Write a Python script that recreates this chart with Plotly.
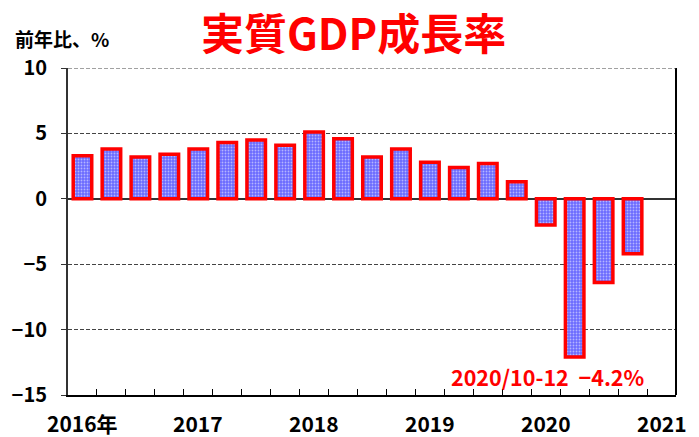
import plotly.graph_objects as go

quarters = ["2016Q1","2016Q2","2016Q3","2016Q4","2017Q1","2017Q2","2017Q3","2017Q4",
            "2018Q1","2018Q2","2018Q3","2018Q4","2019Q1","2019Q2","2019Q3","2019Q4",
            "2020Q1","2020Q2","2020Q3","2020Q4"]
growth = [3.3, 3.8, 3.2, 3.4, 3.8, 4.3, 4.5, 4.1,
          5.1, 4.6, 3.2, 3.8, 2.8, 2.4, 2.7, 1.3,
          -2.0, -12.1, -6.4, -4.2]
year_labels = ["2016年", "2017", "2018", "2019", "2020", "2021"]
y_ticks = [10, 5, 0, -5, -10, -15]
y_tick_text = ["10", "5", "0", "−5", "−10", "−15"]
title_text = "実質GDP成長率"
y_title = "前年比、%"
note_text = "2020/10-12 \u00a0−4.2%"

FONT = "Noto Sans CJK JP"
xpos = [i + 0.5 for i in range(len(quarters))]

fig = go.Figure()
fig.add_trace(go.Bar(
    x=xpos, y=growth, width=0.64,
    customdata=quarters,
    marker=dict(
        color="#6a6aff",
        line=dict(color="#ff0000", width=3.5),
        pattern=dict(shape=".", fgcolor="white", bgcolor="#6a6aff", size=3, solidity=0.3),
    ),
    hovertemplate="%{customdata}: %{y}%<extra></extra>",
))

fig.update_layout(
    width=699, height=437,
    margin=dict(l=68, r=23, t=68, b=42),
    paper_bgcolor="white", plot_bgcolor="white",
    showlegend=False,
    font=dict(family=FONT, color="black"),
)

fig.update_xaxes(
    range=[0, 21],
    tickvals=list(range(1, 21)), ticktext=[""] * 20,
    ticks="inside", ticklen=6, tickwidth=1, tickcolor="black",
    showgrid=False, zeroline=False,
    showline=True, linecolor="black", linewidth=2,
)
fig.update_yaxes(
    range=[-15, 10],
    tickvals=y_ticks, ticktext=y_tick_text,
    ticks="outside", ticklen=5, tickwidth=1, tickcolor="#333",
    ticklabelstandoff=10,
    tickfont=dict(family=FONT, size=20, color="black", weight="bold"),
    showgrid=True, gridcolor="#444", griddash="4px,2px", gridwidth=1,
    zeroline=True, zerolinecolor="#333", zerolinewidth=2,
    showline=True, linecolor="#333", linewidth=2,
)

# right border and top dashed line
fig.add_shape(type="line", xref="paper", yref="paper", x0=1, x1=1, y0=0, y1=1,
              line=dict(color="black", width=2))
fig.add_shape(type="line", xref="paper", yref="y", x0=0, x1=1, y0=10, y1=10,
              line=dict(color="#444", width=1, dash="4px,2px"))

# year labels centred under Q1 of each year
for k, lab in enumerate(year_labels):
    fig.add_annotation(x=k * 4 + 0.5, y=-0.035, xref="x", yref="paper",
                       text=lab, showarrow=False, yanchor="top",
                       font=dict(family=FONT, size=21, color="black", weight="bold"))

fig.add_annotation(x=353, y=31, xref="paper", yref="paper", text=title_text, showarrow=False)
fig.layout.annotations[-1].update(
    x=(353 - 68) / 608, y=1 + (68 - 31) / 327, xanchor="center", yanchor="middle",
    font=dict(family=FONT, size=43, color="#ff0000", weight="bold"))
fig.add_annotation(x=0, y=0, xref="paper", yref="paper", text=y_title, showarrow=False)
fig.layout.annotations[-1].update(
    x=(13 - 68) / 608, y=1 + (68 - 38) / 327, xanchor="left", yanchor="middle",
    font=dict(family=FONT, size=19, color="black", weight="bold"))

fig.add_annotation(x=20.0, y=-13.6, xref="x", yref="y", text=note_text,
                   showarrow=False, xanchor="right", yanchor="middle",
                   font=dict(family=FONT, size=21.5, color="#ff0000", weight="bold"))

fig.write_html("out.html", config={"displayModeBar": False},
               post_script="document.body.style.margin='0';")
